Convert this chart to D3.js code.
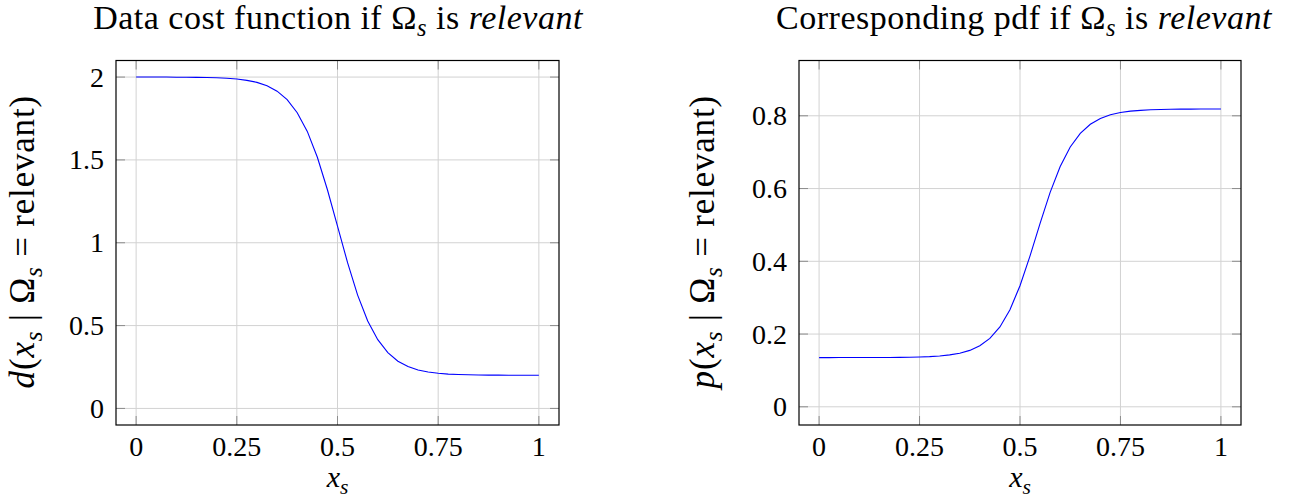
<!DOCTYPE html>
<html>
<head>
<meta charset="utf-8">
<script src="https://cdn.jsdelivr.net/npm/d3@7"></script>
<style>
  body { margin: 0; background: #fff; }
  svg { display: block; }
</style>
</head>
<body>
<svg id="chart" width="1295" height="500" font-family="'Liberation Serif', 'DejaVu Serif', serif"></svg>
<script>
// ---- data ----
const xValues = [0, 0.025, 0.05, 0.075, 0.1, 0.125, 0.15, 0.175, 0.2, 0.225, 0.25, 0.275, 0.3, 0.325, 0.35, 0.375, 0.4, 0.425, 0.45, 0.475, 0.5, 0.525, 0.55, 0.575, 0.6, 0.625, 0.65, 0.675, 0.7, 0.725, 0.75, 0.775, 0.8, 0.825, 0.85, 0.875, 0.9, 0.925, 0.95, 0.975, 1];
const costValues = [2.000, 2.000, 2.000, 2.000, 1.999, 1.999, 1.998, 1.997, 1.996, 1.993, 1.988, 1.980, 1.968, 1.947, 1.915, 1.864, 1.785, 1.672, 1.516, 1.320, 1.100, 0.880, 0.684, 0.528, 0.415, 0.337, 0.285, 0.253, 0.232, 0.220, 0.212, 0.207, 0.205, 0.203, 0.202, 0.201, 0.201, 0.200, 0.200, 0.200, 0.200];
const pdfValues = [0.1353, 0.1353, 0.1354, 0.1354, 0.1354, 0.1355, 0.1356, 0.1357, 0.1359, 0.1363, 0.1369, 0.1380, 0.1398, 0.1427, 0.1474, 0.1551, 0.1677, 0.1879, 0.2196, 0.2670, 0.3329, 0.4150, 0.5045, 0.5896, 0.6606, 0.7143, 0.7517, 0.7766, 0.7926, 0.8027, 0.8089, 0.8128, 0.8150, 0.8165, 0.8174, 0.8179, 0.8182, 0.8184, 0.8185, 0.8186, 0.8186];
const xTicks = [0, 0.25, 0.5, 0.75, 1];
const xTickLabels = ["0", "0.25", "0.5", "0.75", "1"];
const costTicks = [0, 0.5, 1, 1.5, 2];
const costTickLabels = ["0", "0.5", "1", "1.5", "2"];
const pdfTicks = [0, 0.2, 0.4, 0.6, 0.8];
const pdfTickLabels = ["0", "0.2", "0.4", "0.6", "0.8"];

const svg = d3.select("#chart");

// math text helper: parts = [{t, i (italic), sub}]
function mathText(textSel, parts, size) {
  let wasSub = false;
  parts.forEach(p => {
    const ts = textSel.append("tspan").text(p.t);
    if (p.i) ts.attr("font-style", "italic");
    if (p.sub) {
      ts.attr("font-size", size * 0.72).attr("dy", size * 0.22);
      wasSub = true;
    } else {
      if (wasSub) ts.attr("dy", -size * 0.22);
      wasSub = false;
    }
  });
}

function panel(opts) {
  const g = svg.append("g");
  const x = d3.scaleLinear().domain([-0.05, 1.05]).range([opts.left, opts.right]);
  const y = d3.scaleLinear().domain(opts.yDomain).range([opts.bottom, opts.top]);

  // grid
  g.append("g").selectAll("line").data(xTicks).join("line")
    .attr("x1", d => x(d)).attr("x2", d => x(d))
    .attr("y1", opts.top).attr("y2", opts.bottom)
    .attr("stroke", "#d2d2d2").attr("stroke-width", 1);
  g.append("g").selectAll("line").data(opts.yTicks).join("line")
    .attr("x1", opts.left).attr("x2", opts.right)
    .attr("y1", d => y(d)).attr("y2", d => y(d))
    .attr("stroke", "#d2d2d2").attr("stroke-width", 1);

  // tick marks (inside, both sides)
  const tl = 9;
  const tg = g.append("g").attr("stroke", "#8c8c8c").attr("stroke-width", 1);
  xTicks.forEach(d => {
    tg.append("line").attr("x1", x(d)).attr("x2", x(d)).attr("y1", opts.bottom).attr("y2", opts.bottom - tl);
    tg.append("line").attr("x1", x(d)).attr("x2", x(d)).attr("y1", opts.top).attr("y2", opts.top + tl);
  });
  opts.yTicks.forEach(d => {
    tg.append("line").attr("x1", opts.left).attr("x2", opts.left + tl).attr("y1", y(d)).attr("y2", y(d));
    tg.append("line").attr("x1", opts.right).attr("x2", opts.right - tl).attr("y1", y(d)).attr("y2", y(d));
  });

  // curve
  const line = d3.line().x((d, i) => x(xValues[i])).y(d => y(d));
  g.append("path").datum(opts.values)
    .attr("d", line).attr("fill", "none")
    .attr("stroke", "#0000ff").attr("stroke-width", 1.1);

  // frame
  g.append("rect").attr("x", opts.left).attr("y", opts.top)
    .attr("width", opts.right - opts.left).attr("height", opts.bottom - opts.top)
    .attr("fill", "none").attr("stroke", "#000").attr("stroke-width", 1.2);

  // tick labels
  g.append("g").selectAll("text").data(xTicks).join("text")
    .attr("x", d => x(d)).attr("y", 456)
    .attr("text-anchor", "middle").attr("font-size", 28)
    .text((d, i) => xTickLabels[i]);
  g.append("g").selectAll("text").data(opts.yTicks).join("text")
    .attr("x", opts.left - 12).attr("y", d => y(d)).attr("dy", "0.34em")
    .attr("text-anchor", "end").attr("font-size", 28)
    .text((d, i) => opts.yTickLabels[i]);

  // x label
  const xl = g.append("text").attr("x", x(0.5)).attr("y", 487)
    .attr("text-anchor", "middle").attr("font-size", 30);
  mathText(xl, [{t: "x", i: true}, {t: "s", i: true, sub: true}], 30);

  // y label
  const cy = (opts.top + opts.bottom) / 2 - 1;
  const yl = g.append("text")
    .attr("transform", `translate(${opts.yLabelX},${cy}) rotate(-90)`)
    .attr("text-anchor", "middle").attr("font-size", 35)
    .attr("letter-spacing", 0.8);
  mathText(yl, [
    {t: opts.fn, i: true}, {t: "("}, {t: "x", i: true}, {t: "s", i: true, sub: true},
    {t: " | Ω"}, {t: "s", i: true, sub: true}, {t: " = relevant)"}
  ], 35);

  // title
  const tt = g.append("text").attr("x", opts.titleX).attr("y", 29)
    .attr("text-anchor", "middle").attr("font-size", 34)
    .attr("letter-spacing", 0.5);
  mathText(tt, [
    {t: opts.title + " if Ω"}, {t: "s", i: true, sub: true}, {t: " is "}, {t: "relevant", i: true}
  ], 34);
}

panel({
  left: 116, right: 559, top: 60.5, bottom: 425,
  yDomain: [-0.1, 2.1], values: costValues,
  yTicks: costTicks, yTickLabels: costTickLabels,
  fn: "d", yLabelX: 34, title: "Data cost function", titleX: 338
});

panel({
  left: 799, right: 1241, top: 60.5, bottom: 425,
  yDomain: [-0.05, 0.952], values: pdfValues,
  yTicks: pdfTicks, yTickLabels: pdfTickLabels,
  fn: "p", yLabelX: 714, title: "Corresponding pdf", titleX: 1024
});
</script>
</body>
</html>
